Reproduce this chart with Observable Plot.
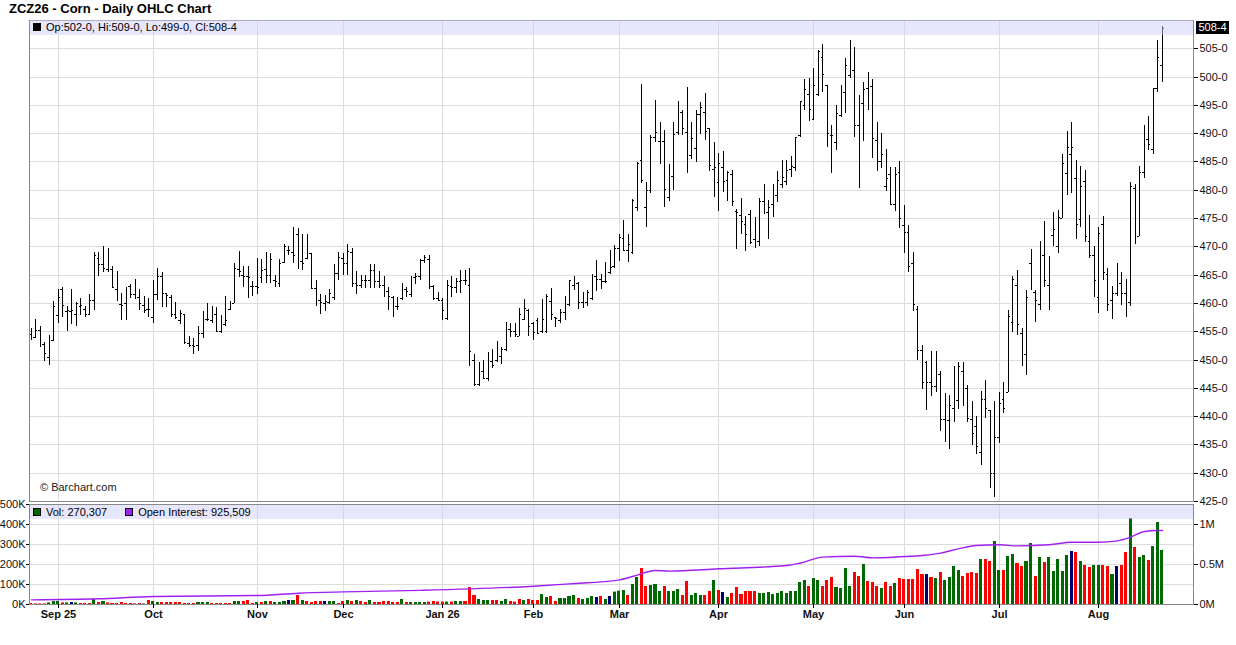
<!DOCTYPE html>
<html>
<head>
<meta charset="utf-8">
<script src="https://cdn.jsdelivr.net/npm/d3@7"></script>
<script src="https://cdn.jsdelivr.net/npm/@observablehq/plot@0.6"></script>
<style>
  body { margin: 0; background: #fff; }
  #wrap { position: relative; width: 1236px; height: 645px; font-family: "Liberation Sans", Arial, sans-serif; color: #000; }
  #title { position: absolute; left: 9px; top: 1px; font-weight: bold; font-size: 13px; }
  .band { position: absolute; left: 30px; width: 1163px; background: rgba(205, 205, 250, 0.5); font-size: 11px; line-height: 15px; white-space: nowrap; }
  .sq { display: inline-block; width: 6px; height: 6px; border: 1px solid #000; margin: 0 5px 0 3px; vertical-align: -0px; }
  #last { position: absolute; left: 1196px; width: 33px; height: 13px; background: #000; color: #fff; font-size: 11px; line-height: 13px; text-align: center; }
  #credit { position: absolute; left: 40px; top: 481px; font-size: 11px; color: #222; }
</style>
</head>
<body>
<div id="wrap">
  <div id="title">ZCZ26 - Corn - Daily OHLC Chart</div>
  <div id="price" style="position:absolute;left:0;top:18px"></div>
  <div id="vol" style="position:absolute;left:0;top:504px"></div>
  <div class="band" id="pband" style="top:20px;height:15px"></div>
  <div class="band" id="vband" style="top:505px;height:14px;line-height:14px"></div>
  <div id="credit">© Barchart.com</div>
  <div id="last"></div>
</div>
<script>
// daily bars, Aug 22 2025 .. Aug 21 2026 (trading days)
const opens = [
  454.5,454,455.3,452.8,450.5,453.4,457.8,462.4,458.6,458.6,
  458,459.4,459,458,460.6,468,466.8,466,466,462.4,
  459.8,460,463,461.6,461,459.6,459,457.5,461.6,464.7,
  461.8,461,458,457,458,453,452.5,452.5,454.7,457.2,
  457,458,455.1,456.2,459,460,466,465,464.7,463,
  463,464.5,466,465,464,463.5,467.2,469.4,469,472.1,
  467.5,468,468.9,462.6,460.5,460,460.1,461.1,465.3,468,
  467,469,463.5,463.2,464.1,464,465.9,463.8,463.2,462.1,
  461,459.5,460.8,462.4,461.5,464.6,464.8,467.6,467.8,463,
  460.9,460.6,457.4,463,462.9,463.8,464.1,463.1,450,445.6,
  447.9,446.8,449.7,450,450.6,451.8,455.4,455.1,454.1,457.2,
  458.7,456.4,457,455,455,460.3,457.5,456.9,458.4,459.9,
  463.2,463.5,460.1,460.1,460.8,464.8,464.3,463.8,465.5,466.6,
  469.7,471.5,469.4,469,477,485.3,477,480,489.3,488.7,
  488.6,478.7,482.5,490.2,493.7,490.2,486.2,487.4,493.4,493.7,
  491,483.7,481.3,484,481.7,482.7,476.3,475.6,473.9,475.7,
  471.3,470.9,478,476.1,477.4,479.1,481.1,481.6,483.7,484.1,
  489.6,495,496.9,492.5,496.9,503.5,498.5,489.7,488.5,493.2,
  497.3,500.3,501.2,491.5,495.3,497.9,498.4,488.8,485.1,480.7,
  482.7,477.4,483.1,473.8,472.5,467,458.9,451.7,449.6,446.1,
  445.4,447.4,439.5,439.3,441.5,442.8,447.9,444.9,439.5,438.2,
  433.7,443,441.1,429.9,436.3,443,444.3,456.7,463.2,454.6,
  451,467,462,459.8,468.5,463.2,472,470.1,475,482.9,
  486.3,482,474.8,481.6,471,468.5,461,474,465.1,460.5,
  461.7,463.5,461.7,460.1,480.4,471.8,483.2,488.9,487.2,497.9,
  502
];
const highs = [
  455.6,457.2,456,453.1,454.4,460.3,462.4,462.8,459.5,462.4,
  460.2,460.8,459.5,461.6,469,469,470,469.7,466.5,465.6,
  461.8,462.9,463.4,464.2,462.4,461.3,460.8,464.1,466.2,465.5,
  461.8,461.4,460.2,458.8,458,454.1,453.8,455.9,458.6,460,
  459.4,459.2,457.8,461.2,460.3,467,469.2,466.6,466.6,463.8,
  467.9,467.8,469,468.8,465,467.8,470.5,470.1,473.4,473.2,
  472.1,472.1,468.9,464.1,461.6,461.4,462.4,466.8,469,468.8,
  470.5,469.7,465.6,465,465,466.8,466.8,465.6,464.8,462.9,
  461.2,461.1,463.5,462.9,464.8,465.3,467.8,468.5,468.5,463.2,
  461.9,460.9,464.1,464.8,464.4,465.9,465.8,466.2,450.9,449.5,
  450,451.3,451.8,453.2,452.2,456.6,456.4,456.4,459.1,460.7,
  459,456.6,457.4,460.7,461.5,462.7,457.6,459,461.3,464.1,
  464.7,463.7,461.9,462.2,465.1,467.6,465.1,467.2,469.3,470.3,
  472.2,474.6,472.1,478.4,484.9,498.7,481.3,489.6,495.9,491.9,
  490.5,484.5,491.9,495.6,494.1,498.1,491.9,494.1,495.5,497.1,
  491,488.4,486.5,486.8,483.4,483.5,476.6,478.5,475.3,476.4,
  475.1,478.6,481,478.2,481,483.3,485.3,485.3,486,489.4,
  495.7,499.6,499.7,501.6,504.7,505.7,498.5,491.5,495,498.5,
  503.2,506.5,505.3,496.8,499,500.8,499.6,491.9,490,487.2,
  484.1,484,485.1,477.3,473.8,469,459.4,452.6,449.8,451.5,
  451.5,448,444,443.8,448.8,449.6,449.6,445.5,442.6,440,
  444.5,446.3,441.1,442.6,444.2,446.1,458.8,464.8,465.8,455.5,
  462.2,469.5,462.2,470.9,474.4,468.3,476.1,476.4,486.4,490.3,
  492,485.2,484.2,483.5,475.6,470,473.5,475.3,466.1,463,
  467.1,465.5,464.2,481.4,481,484.2,491.5,493,497.9,506.4,
  509
];
const lows = [
  453.5,453.8,452.2,449.7,449.1,453.2,456.4,457.6,455.1,456.2,
  455.9,457.9,457.6,457.8,458.7,464.7,465.4,465.4,462.6,460.4,
  456.9,456.9,460.8,460.7,458.8,458.2,457.5,456.5,460.6,459.3,
  459.2,457.6,457.1,456.2,452.8,452.2,451,451.5,453.8,456.8,
  456.4,455,454.7,455.9,458.8,460,464.5,462.8,460.8,461.2,
  461.5,463.5,463.6,463.6,462.9,462.9,467.1,468.5,467.1,466,
  465.8,467.8,462.5,459.4,458.1,458.5,459.8,460.6,464.1,465,
  465,462.9,461.6,462.6,462.6,462.6,462.6,462.6,461.1,458.8,
  457.6,458.8,460.5,461.1,461.1,463.4,464.1,467.1,462.5,460.5,
  460.3,456.9,457,461.1,461.8,461.8,463.2,448.9,445.4,445.3,
  446.5,446.2,448.5,449.5,449.2,451.5,453.9,453.9,454.1,457,
  454.1,453.4,454.7,454.7,454.7,457,455.7,456.4,456.9,459.4,
  462.2,459,459.1,459.4,460.5,462.1,462.5,463.5,465.1,466.2,
  467.5,469.1,467.2,468.7,476.3,481.2,473.4,479.4,488.4,484.6,
  476.9,478.1,479.9,489.6,489.6,482.9,485.5,484.9,489.8,488.8,
  483.4,478.8,476.2,479.6,478,477.2,469.5,472.1,469.1,470.5,
  469.7,470.1,475.7,471.3,475.1,477.9,480.4,480.9,482.3,483.3,
  489.4,494.1,492.2,492.3,496.5,497.3,487.6,482.9,487,492.9,
  493.5,499.7,489.4,480.3,488.6,494.1,485.7,483.3,483.9,479.8,
  477.3,476.3,473.3,468.8,465.4,458.6,449.9,444.8,441.1,443.6,
  444.2,437.4,435.4,434.2,438.9,441.2,441.7,438.9,434.9,433.3,
  431.4,439.6,427.3,425.7,435.3,440.5,444.3,454.9,454.4,448.9,
  447.3,462.2,456.7,458.7,462.9,458.7,470,468.9,475,479.1,
  479.4,471.3,473.4,470.7,467.9,461,458.2,464,458.5,457.1,
  461.2,459.7,457.6,459.5,470.4,471.8,482,487,486.3,497.2,
  499
];
const closes = [
  453.8,455.3,455.3,451.2,453.8,459.4,461,459.6,458.7,458.8,
  460,459.6,458,460.6,468.5,466.8,466.2,468.8,462.8,461.8,
  459.6,462.9,461.5,462.4,460,458.8,458.9,461.6,464.7,461.8,
  461.4,458,457.6,458.2,453.1,452.5,452.4,454.7,457.2,457.1,
  457.9,455.1,456.2,456.9,459.7,466.2,465.6,464.7,464.5,463,
  462.9,465.9,465,467.8,463.9,467.1,470,469.4,468.4,467.2,
  467.1,468.9,462.6,461.1,460.1,460.3,461.8,465.3,468.2,467.1,
  469.1,463.5,463.2,464.1,464,465.9,463.8,463.2,462.1,461.2,
  459.5,459.4,462.4,462.1,464.6,464.8,467.6,468.2,463,460.9,
  460.6,458.7,463.2,462.9,463.8,464.1,464,451.5,445.6,447.8,
  446.8,449.7,449.1,450.6,451.8,455.4,455.1,454.5,458,459.1,
  456,454.8,454.7,457.2,461.3,458,457.4,458.4,459.9,464.1,
  464.7,460.1,461.3,461.9,464.8,464.3,463.8,463.8,466.3,469.7,
  471.6,469.4,470.4,478.2,484.7,481.7,479.9,489.3,490.2,491.6,
  480.2,481.9,489.9,494.6,491,486.8,489.2,493.4,494.7,490.3,
  484.3,484.1,484.7,481.6,483.1,478,476.1,474.4,472.1,470.8,
  470.4,478,476.7,477,479.4,481.7,482.3,483.5,484.2,489.4,
  495.7,497.8,494.3,498.6,504.5,500.4,490,489.6,493.5,497.8,
  502.1,502.9,491.5,481,497.8,497.8,489.2,485.1,486.4,482,
  477.4,482.7,475,472.5,466.6,459.8,451.7,446,446.1,445.4,
  446.7,439.5,440.2,441.9,442.6,448.8,444,439.6,437.1,434.7,
  443,441.4,429.9,436.3,442.4,441.4,457.7,464.2,456.3,452,
  461,463.2,460.5,469.5,464.1,467.5,473,475.1,484.7,487.5,
  487.5,474,480.7,471.8,468.5,464.1,472.4,465.4,459.9,461.8,
  461.8,461.7,460.5,480.7,472,483.2,489.4,488.1,497.9,503.4,
  508.5
];
// volume in thousands of contracts
const volumes = [
  5,3,3,3,8,15,15,8,8,10,
  8,5,5,5,25,10,15,8,5,5,
  10,5,5,3,5,3,20,15,10,10,
  10,10,10,10,5,5,5,10,10,10,
  5,5,5,5,5,15,15,15,20,5,
  10,10,15,15,10,10,15,20,20,45,
  20,15,10,15,15,15,15,15,5,15,
  20,15,20,15,10,20,10,10,15,15,
  10,10,25,10,10,10,10,10,12,15,
  12,12,12,12,15,15,15,85,45,25,
  20,20,20,20,15,25,15,12,25,20,
  25,20,20,50,35,40,15,30,30,40,
  45,30,25,30,40,35,40,25,40,62,
  67,70,45,100,135,180,90,95,100,65,
  90,65,65,75,45,115,45,55,45,45,
  65,120,70,60,35,55,85,50,65,65,
  65,55,55,60,50,55,65,55,65,65,
  110,120,90,130,120,90,120,135,85,80,
  180,90,160,140,200,115,110,90,80,110,
  90,105,130,125,125,125,175,150,150,135,
  130,160,120,135,190,170,140,155,160,155,
  225,225,215,315,170,170,240,250,205,190,
  215,305,140,235,210,235,165,225,165,245,
  265,260,215,195,185,195,195,195,190,150,
  190,195,260,430,285,235,245,220,290,410,
  270.307
];
// g = up, r = down, n = unchanged
const volDir = [..."rrrrgggrgn" + "grrrgrgrrr" + "rrrrrgrggr" + "rrrrrrrggg" + "rrrrrggrrr" +
  "grgrgggngr" + "grrrrnggrr" + "grgrrgrrrr" + "rrgrggggrr" + "rrgrggrrrg" +
  "ggrrggrrrg" + "rrrggrrggg" + "grgggnrgng" + "ggrggrrggg" + "rgggrrgggr" +
  "rgrngrrrrr" + "rggggggggg" + "ggrggrrrgg" + "ggrrgrrrgr" + "rgrrrrrrnr" +
  "grggggrrrr" + "grrggrggrr" + "ggrgrggggg" + "nrgrrggrrg" + "nrrgrggrggg"];
// open interest, thousands, read at these bars
const oiDays  = [0, 15, 27, 50, 59, 69, 86, 111, 119, 130, 133, 138, 141, 152, 167, 170, 175, 182, 186, 193, 197, 201, 205, 209, 214, 218, 225, 230, 236, 240, 243, 246, 249, 250];
const oiValue = [58, 71, 100, 112, 141, 158, 177, 229, 258, 308, 350, 425, 417, 446, 487, 519, 592, 604, 583, 600, 612, 642, 696, 737, 746, 733, 746, 779, 779, 796, 842, 912, 925, 925.509];

const monthDays   = [6, 27, 50, 69, 91, 111, 130, 152, 173, 193, 214, 236];
const monthLabels = ["Sep 25", "Oct", "Nov", "Dec", "Jan 26", "Feb", "Mar", "Apr", "May", "Jun", "Jul", "Aug"];
const priceTicks  = [425, 430, 435, 440, 445, 450, 455, 460, 465, 470, 475, 480, 485, 490, 495, 500, 505];
const volTicks    = [0, 100, 200, 300, 400, 500];
const oiTicks     = [0, 500, 1000];
const oiTickLabels = ["0M", "0.5M", "1M"];

const bars = opens.map((o, i) => ({i, open: o, high: highs[i], low: lows[i], close: closes[i], vol: volumes[i], dir: volDir[i]}));
const oi = oiDays.map((d, k) => ({i: d, oi: oiValue[k]}));
const dirColor = {g: "#006800", r: "#ff0000", n: "#000070"};

const fmtPrice = v => { const w = Math.floor(v + 1e-9); return `${w}-${Math.round((v - w) * 8)}`; };
const xDomain = [-0.35, 256.9];
const font = '"Liberation Sans", Arial, sans-serif';

const priceChart = Plot.plot({
  width: 1236,
  height: 486,
  marginTop: 2,
  marginBottom: 3,
  marginLeft: 29,
  marginRight: 43,
  x: {domain: xDomain, round: true, axis: null, label: null},
  y: {domain: [425, 510], round: true, axis: null, label: null},
  style: {fontFamily: font, fontSize: "11px", background: "transparent", overflow: "visible"},
  marks: [
    Plot.ruleY(priceTicks, {stroke: "#dcdcdc"}),
    Plot.ruleX(monthDays, {stroke: "#dcdcdc"}),
    Plot.ruleX(bars, {x: "i", y1: "low", y2: "high", stroke: "#000"}),
    Plot.ruleY(bars, {y: "open", x1: d => d.i - 0.4, x2: "i", stroke: "#000"}),
    Plot.ruleY(bars, {y: "close", x1: "i", x2: d => d.i + 0.4, stroke: "#000"}),
    Plot.frame({stroke: "#888"}),
    Plot.axisY(priceTicks, {anchor: "right", label: null, tickSize: 4, tickPadding: 2, tickFormat: fmtPrice, fill: "#111"})
  ]
});
document.getElementById("price").append(priceChart);

const volChart = Plot.plot({
  width: 1236,
  height: 141,
  marginTop: 0,
  marginBottom: 41,
  marginLeft: 29,
  marginRight: 43,
  x: {domain: xDomain, round: true, axis: null, label: null},
  y: {domain: [0, 500], axis: null, label: null},
  style: {fontFamily: font, fontSize: "11px", background: "transparent", overflow: "visible"},
  marks: [
    Plot.ruleY(volTicks, {stroke: "#dcdcdc"}),
    Plot.ruleX(monthDays, {stroke: "#dcdcdc"}),
    Plot.rectY(bars, {x1: d => d.i - 0.34, x2: d => d.i + 0.34, y: "vol", fill: d => dirColor[d.dir]}),
    // open interest drawn against the right-hand axis (1M = 400K on the left)
    Plot.line(oi, {x: "i", y: d => d.oi * 0.4, stroke: "#a020f0", strokeWidth: 1.4, curve: "monotone-x"}),
    Plot.frame({stroke: "#888"}),
    Plot.axisY(volTicks, {anchor: "left", label: null, tickSize: 3, tickPadding: 1, tickFormat: d => d + "K", fill: "#111"}),
    Plot.axisY(oiTicks.map(d => d * 0.4), {anchor: "right", label: null, tickSize: 4, tickPadding: 2, tickFormat: (d) => oiTickLabels[oiTicks.indexOf(d / 0.4)], fill: "#111"}),
    Plot.axisX(monthDays, {anchor: "bottom", label: null, tickSize: 4, tickPadding: 2, tickFormat: d => monthLabels[monthDays.indexOf(d)], fontWeight: "bold", fill: "#111"})
  ]
});
document.getElementById("vol").append(volChart);

// header legends
const last = bars[bars.length - 1];
document.getElementById("pband").innerHTML =
  `<span class="sq" style="background:#000"></span>Op:${fmtPrice(last.open)}, Hi:${fmtPrice(last.high)}, Lo:${fmtPrice(last.low)}, Cl:${fmtPrice(last.close)}`;
document.getElementById("vband").innerHTML =
  `<span class="sq" style="background:${dirColor.g}"></span>Vol: ${d3.format(",")(Math.round(last.vol * 1000))}` +
  `<span class="sq" style="background:#a020f0;margin-left:18px"></span>Open Interest: ${d3.format(",")(Math.round(oiValue[oiValue.length - 1] * 1000))}`;

// last-price marker on the price axis
const lastEl = document.getElementById("last");
lastEl.textContent = fmtPrice(last.close);
lastEl.style.top = (18 + priceChart.scale("y").apply(last.close) - 7) + "px";
</script>
</body>
</html>
